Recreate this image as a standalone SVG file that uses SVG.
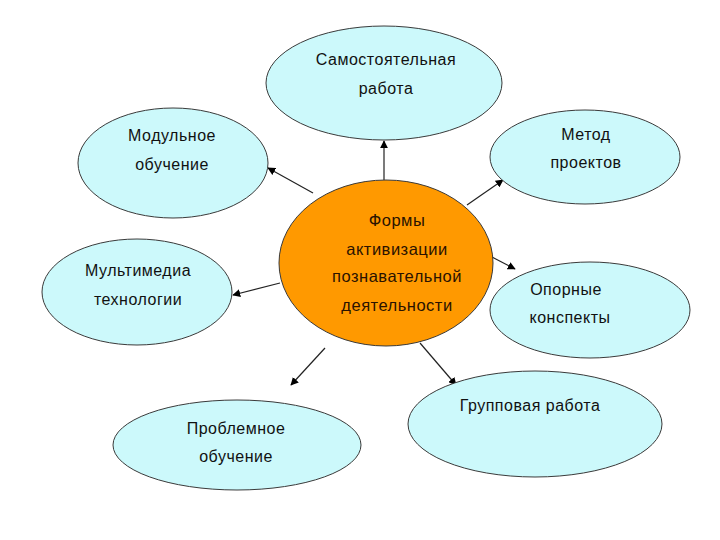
<svg xmlns="http://www.w3.org/2000/svg" width="720" height="540" viewBox="0 0 720 540">
<style>
.n{fill:#ccf9fb;stroke:#3a3a3a;stroke-width:1}
.c{fill:#ff9900;stroke:#3a3a3a;stroke-width:1}
.t{font-family:"Liberation Sans",Arial,sans-serif;font-size:16px;letter-spacing:0.5px;fill:#111;text-anchor:middle}
.tc{font-family:"Liberation Sans",Arial,sans-serif;font-size:16.5px;letter-spacing:0.5px;fill:#2a1200;text-anchor:middle}
.a{stroke:#222;stroke-width:1.2;fill:none;marker-end:url(#ah)}
</style>
<defs>
<marker id="ah" viewBox="0 0 10 10" refX="9" refY="5" markerWidth="8" markerHeight="8" markerUnits="userSpaceOnUse" orient="auto">
<path d="M0,0 L10,5 L0,10 z" fill="#000"/>
</marker>
</defs>
<rect width="720" height="540" fill="#fff"/>
<g id="connectors">
<line class="a" x1="384" y1="180" x2="384" y2="141"/>
<line class="a" x1="313" y1="193" x2="268" y2="168"/>
<line class="a" x1="467" y1="205" x2="503" y2="180"/>
<line class="a" x1="280" y1="283" x2="233" y2="295"/>
<line class="a" x1="490" y1="256" x2="515" y2="269"/>
<line class="a" x1="420" y1="343" x2="456" y2="385"/>
<line class="a" x1="325" y1="348" x2="291" y2="385"/>
</g>
<g id="center">
<ellipse class="c" cx="386" cy="263" rx="107" ry="83"/>
<text class="tc" x="397" y="226">Формы</text>
<text class="tc" x="397" y="255">активизации</text>
<text class="tc" x="397" y="282">познавательной</text>
<text class="tc" x="397" y="311">деятельности</text>
</g>
<g id="samost">
<ellipse class="n" cx="384" cy="83" rx="118" ry="57"/>
<text class="t" x="386" y="65">Самостоятельная</text>
<text class="t" x="386" y="94">работа</text>
</g>
<g id="modul">
<ellipse class="n" cx="173" cy="163" rx="95" ry="55"/>
<text class="t" x="172" y="141">Модульное</text>
<text class="t" x="172" y="170">обучение</text>
</g>
<g id="metod">
<ellipse class="n" cx="585" cy="157" rx="95" ry="47"/>
<text class="t" x="586" y="140">Метод</text>
<text class="t" x="586" y="168">проектов</text>
</g>
<g id="multimedia">
<ellipse class="n" cx="137" cy="292" rx="95" ry="53"/>
<text class="t" x="138" y="276">Мультимедиа</text>
<text class="t" x="138" y="305">технологии</text>
</g>
<g id="opornye">
<ellipse class="n" cx="590" cy="310" rx="100" ry="48"/>
<text class="t" x="566" y="295">Опорные</text>
<text class="t" x="570" y="323">конспекты</text>
</g>
<g id="gruppovaya">
<ellipse class="n" cx="535" cy="424" rx="127" ry="53"/>
<text class="t" x="530" y="411">Групповая работа</text>
</g>
<g id="problemnoe">
<ellipse class="n" cx="237" cy="445" rx="124" ry="45"/>
<text class="t" x="236" y="434">Проблемное</text>
<text class="t" x="236" y="462">обучение</text>
</g>
</svg>
